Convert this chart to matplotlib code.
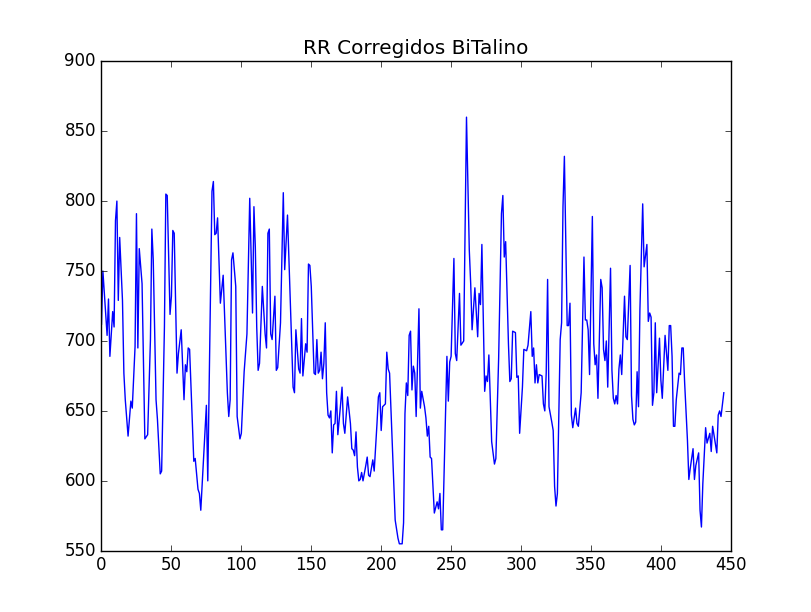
import matplotlib
matplotlib.use("Agg")
import matplotlib.pyplot as plt

# beat index / corrected RR (ms)
idx = [0, 1, 4, 5, 6, 8, 9, 10, 11, 12, 13, 15, 16, 17, 19, 21, 22, 24, 25, 26, 27, 29, 31, 33, 35, 36, 37, 39, 40, 42,
       43, 45, 46, 47, 49, 50, 51, 52, 54, 55, 57, 59, 60, 61, 62, 63, 66, 67, 69, 70, 71, 75, 76, 79, 80, 81, 82, 83, 85, 87,
       90, 91, 92, 93, 94, 96, 97, 99, 100, 102, 104, 106, 108, 109, 110, 111, 112, 113, 115, 117, 118, 119, 120, 121, 122, 124, 125, 126, 128, 130,
       131, 133, 135, 137, 138, 139, 141, 142, 143, 144, 146, 147, 148, 149, 150, 152, 153, 154, 155, 156, 157, 158, 159, 160, 161, 162, 163, 164, 165, 166,
       167, 168, 169, 171, 172, 173, 174, 176, 178, 179, 180, 181, 182, 183, 184, 185, 186, 187, 189, 190, 191, 192, 194, 195, 197, 198, 199, 200, 201, 203,
       204, 205, 206, 209, 210, 212, 213, 215, 216, 217, 218, 219, 220, 221, 222, 223, 224, 225, 227, 228, 229, 231, 232, 233, 234, 235, 236, 238, 240, 241,
       242, 243, 244, 247, 248, 249, 250, 252, 253, 254, 256, 257, 259, 260, 261, 263, 264, 265, 267, 269, 270, 271, 272, 274, 275, 276, 277, 279, 281, 282,
       284, 286, 287, 288, 289, 291, 292, 293, 294, 296, 297, 298, 299, 301, 302, 304, 305, 307, 308, 309, 310, 311, 312, 313, 315, 316, 317, 318, 319, 320,
       322, 323, 324, 325, 326, 328, 329, 330, 331, 333, 334, 335, 336, 337, 339, 340, 341, 343, 345, 346, 347, 348, 349, 351, 352, 353, 354, 355, 357, 358,
       359, 360, 361, 362, 364, 365, 366, 367, 368, 369, 370, 371, 372, 374, 375, 376, 378, 379, 380, 381, 382, 383, 384, 385, 387, 388, 390, 391, 392, 393,
       394, 395, 396, 397, 399, 400, 401, 403, 405, 406, 407, 408, 409, 410, 411, 413, 414, 415, 416, 417, 419, 420, 421, 423, 424, 425, 427, 428, 429, 430,
       432, 433, 435, 436, 437, 440, 441, 442, 443, 445]
rr = [712, 750, 704, 730, 689, 721, 710, 786, 800, 729, 774, 729, 677, 658, 632, 657, 652, 696, 791, 695, 766, 741, 630, 633, 701, 780, 758, 658, 644, 605,
      607, 710, 805, 804, 719, 732, 779, 777, 677, 691, 708, 658, 683, 678, 695, 694, 614, 616, 594, 591, 579, 654, 600, 807, 814, 776, 777, 788, 727, 747,
      663, 646, 658, 758, 763, 739, 646, 630, 634, 678, 705, 802, 720, 796, 767, 710, 679, 684, 739, 705, 695, 777, 780, 705, 701, 732, 679, 681, 713, 806,
      751, 790, 729, 667, 663, 708, 680, 677, 716, 675, 698, 692, 755, 754, 739, 677, 676, 701, 677, 679, 692, 673, 684, 713, 663, 647, 645, 650, 620, 640,
      641, 664, 633, 655, 667, 641, 634, 660, 641, 623, 622, 618, 635, 610, 600, 601, 606, 600, 611, 617, 604, 603, 615, 607, 641, 660, 663, 636, 653, 655,
      692, 680, 677, 598, 572, 559, 555, 555, 570, 648, 670, 661, 704, 707, 665, 682, 677, 646, 723, 652, 664, 653, 645, 632, 639, 617, 616, 577, 585, 580,
      591, 565, 565, 689, 657, 685, 689, 759, 691, 686, 734, 697, 700, 779, 860, 765, 741, 708, 738, 703, 734, 726, 769, 664, 675, 671, 690, 628, 612, 616,
      688, 791, 804, 760, 771, 698, 671, 673, 707, 706, 674, 675, 634, 667, 694, 693, 697, 721, 689, 695, 670, 683, 670, 676, 675, 655, 650, 677, 744, 653,
      642, 636, 596, 582, 591, 701, 713, 796, 832, 711, 711, 727, 647, 638, 652, 641, 639, 663, 760, 715, 715, 708, 676, 789, 698, 683, 690, 659, 744, 738,
      694, 686, 700, 667, 752, 679, 659, 655, 661, 655, 680, 690, 676, 732, 703, 701, 754, 661, 644, 640, 642, 678, 653, 722, 798, 753, 769, 714, 720, 717,
      654, 663, 713, 663, 702, 672, 659, 704, 679, 711, 711, 689, 639, 639, 658, 677, 676, 695, 695, 670, 629, 601, 609, 623, 601, 611, 620, 579, 567, 598,
      638, 627, 634, 621, 639, 620, 647, 650, 646, 663]

plt.style.use("classic")
fig = plt.figure(figsize=(8.12, 6.12), dpi=100, facecolor="white")
ax = fig.add_subplot(111)
ax.plot(idx, rr, color="b")
ax.set_xlim(0, 450)
ax.set_ylim(550, 900)
ax.set_title("RR Corregidos BiTalino")
fig.savefig("out.png", dpi=100, facecolor="white")
